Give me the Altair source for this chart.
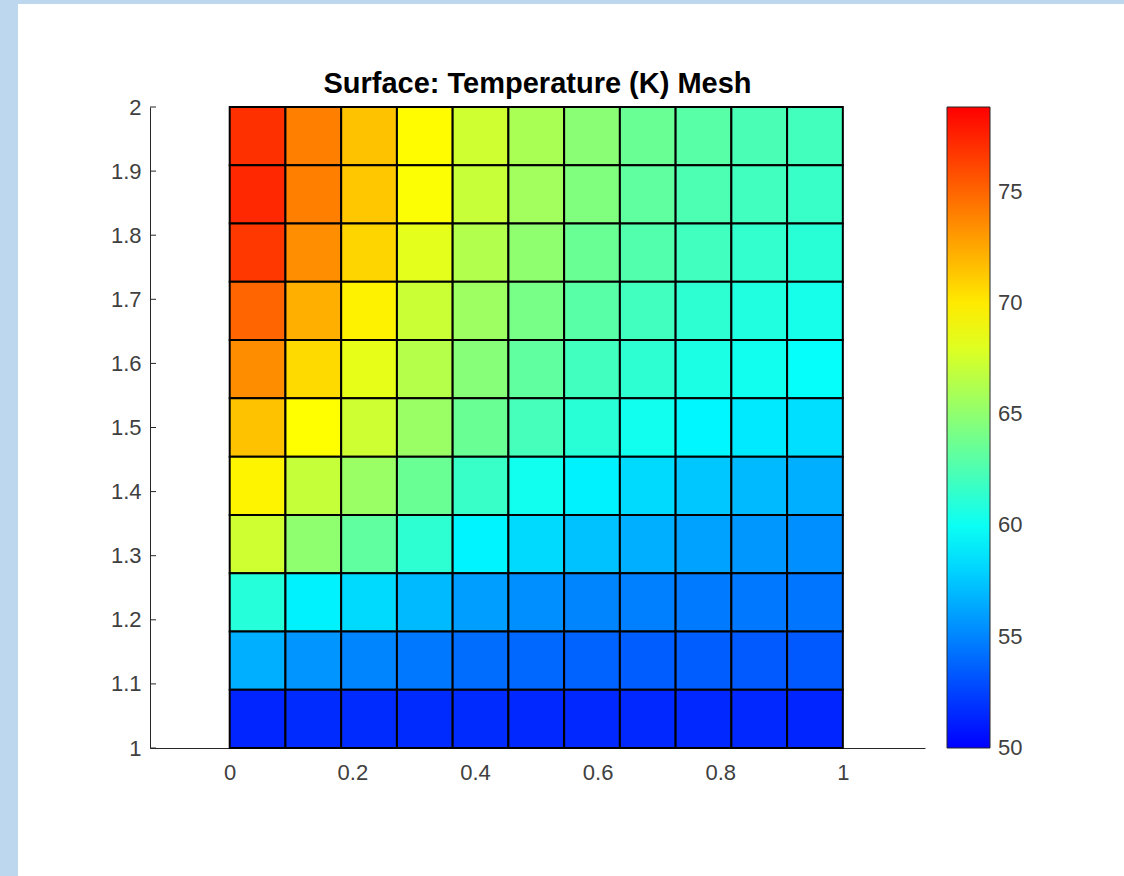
import altair as alt
import pandas as pd

# Cell temperatures (K), rows from top (y near 2) to bottom (y near 1), columns x = 0 -> 1
temps = [
    [77.0, 74.0, 71.5, 69.3, 67.4, 66.0, 64.8, 63.6, 62.9, 62.4, 62.1],
    [77.3, 74.0, 71.3, 69.1, 67.1, 65.7, 64.4, 63.2, 62.5, 62.0, 61.7],
    [76.7, 73.4, 70.8, 68.2, 66.3, 65.0, 63.6, 62.7, 62.0, 61.5, 61.1],
    [75.0, 72.2, 69.7, 67.2, 65.5, 64.1, 62.9, 62.0, 61.3, 60.8, 60.4],
    [73.5, 70.6, 68.3, 66.4, 64.7, 63.2, 62.0, 61.3, 60.6, 60.2, 59.8],
    [71.5, 69.2, 67.3, 65.4, 63.6, 62.2, 61.1, 60.2, 59.3, 58.8, 58.4],
    [69.6, 67.0, 65.4, 63.6, 61.7, 60.2, 59.1, 58.2, 57.5, 57.0, 56.6],
    [67.4, 65.0, 63.2, 61.3, 59.2, 58.2, 57.3, 56.6, 56.1, 55.7, 55.4],
    [61.0, 59.1, 58.2, 57.0, 56.0, 55.4, 55.0, 54.8, 54.6, 54.5, 54.4],
    [56.6, 55.6, 55.0, 54.5, 54.1, 53.9, 53.7, 53.5, 53.5, 53.4, 53.3],
    [51.4, 51.6, 51.6, 51.6, 51.6, 51.5, 51.5, 51.5, 51.5, 51.5, 51.4],
]
x_ticks = [0, 0.2, 0.4, 0.6, 0.8, 1]
y_ticks = [1, 1.1, 1.2, 1.3, 1.4, 1.5, 1.6, 1.7, 1.8, 1.9, 2]
cbar_ticks = [50, 55, 60, 65, 70, 75]
t_min, t_max = 50, 78.8
title_text = ["Surface: Temperature (K) Mesh"]

n = len(temps)
rows = []
for r, row in enumerate(temps):
    for c, v in enumerate(row):
        rows.append({"x0": c / n, "x1": (c + 1) / n,
                     "y1": 2 - r / n, "y0": 2 - (r + 1) / n, "T": v})
df = pd.DataFrame(rows)

W, H = 775, 641
L, TOP = 150, 107
FONT = "Liberation Sans"
AX = "#262626"
LAB = "#404040"
BLUE = "#bdd7ee"
CB_RIGHT = 990 - L  # right edge of colour bar, relative to plot origin

xscale = alt.Scale(domain=[-0.13, 1.134], nice=False, zero=False)
yscale = alt.Scale(domain=[1, 2], nice=False, zero=False)
tscale = alt.Scale(domain=[t_min, t_max], nice=False, zero=False)
span = t_max - t_min
cscale = alt.Scale(domain=[t_min, t_min + span / 3, t_min + 2 * span / 3, t_max],
                   range=["#0000ff", "#00ffff", "#ffff00", "#ff0000"],
                   interpolate="rgb")

one = pd.DataFrame({"a": [0]})
left_strip = alt.Chart(one).mark_rect(color=BLUE).encode(
    x=alt.value(-L), x2=alt.value(18 - L),
    y=alt.value(-TOP), y2=alt.value(876 - TOP),
)
top_strip = alt.Chart(one).mark_rect(color=BLUE).encode(
    x=alt.value(-L), x2=alt.value(1124 - L),
    y=alt.value(-TOP), y2=alt.value(4 - TOP),
)

mesh = alt.Chart(df).mark_rect(stroke="black", strokeWidth=2).encode(
    x=alt.X("x0:Q", scale=xscale,
            axis=alt.Axis(values=x_ticks, format="~g", tickSize=0, labelPadding=14,
                          grid=False, title=None, domainColor=AX, labelColor=LAB,
                          labelFont=FONT, labelFontSize=22)),
    x2="x1:Q",
    y=alt.Y("y0:Q", scale=yscale,
            axis=alt.Axis(values=y_ticks, format="~g", tickSize=0, labelPadding=9,
                          grid=False, title=None, domainColor=AX, labelColor=LAB,
                          labelFont=FONT, labelFontSize=22)),
    y2="y1:Q",
    color=alt.Color("T:Q", scale=cscale,
                    legend=alt.Legend(orient="none", legendX=797, legendY=0,
                                      direction="vertical", title=None,
                                      gradientLength=H, gradientThickness=43,
                                      values=cbar_ticks, labelExpr="''",
                                      gradientStrokeColor=AX, gradientStrokeWidth=1,
                                      padding=0)),
)

yticks = alt.Chart(pd.DataFrame({"v": y_ticks})).mark_rule(color=AX, strokeWidth=1).encode(
    y=alt.Y("v:Q", scale=yscale, axis=None),
    x=alt.value(0), x2=alt.value(6),
)

cbar_labels = alt.Chart(pd.DataFrame({"t": cbar_ticks})).mark_text(
    align="left", baseline="middle", font=FONT, fontSize=22, color=LAB
).encode(
    y=alt.Y("t:Q", scale=tscale, axis=None),
    x=alt.value(CB_RIGHT + 8),
    text=alt.Text("t:Q", format="d"),
)

title = alt.Chart(pd.DataFrame({"title": title_text})).mark_text(
    align="center", baseline="alphabetic", font=FONT, fontSize=29,
    fontWeight="bold", color="black"
).encode(
    x=alt.value(W / 2), y=alt.value(-14), text="title:N",
)

chart = alt.layer(left_strip, top_strip, mesh, yticks, cbar_labels, title).resolve_scale(
    y="independent"
).properties(
    width=W, height=H,
    background="white",
    autosize=alt.AutoSizeParams(type="none"),
    padding={"left": L, "top": TOP, "right": 1124 - L - W, "bottom": 876 - TOP - H},
).configure_view(stroke=None)

chart.save("out.html", embed_options={"renderer": "svg", "actions": False})
